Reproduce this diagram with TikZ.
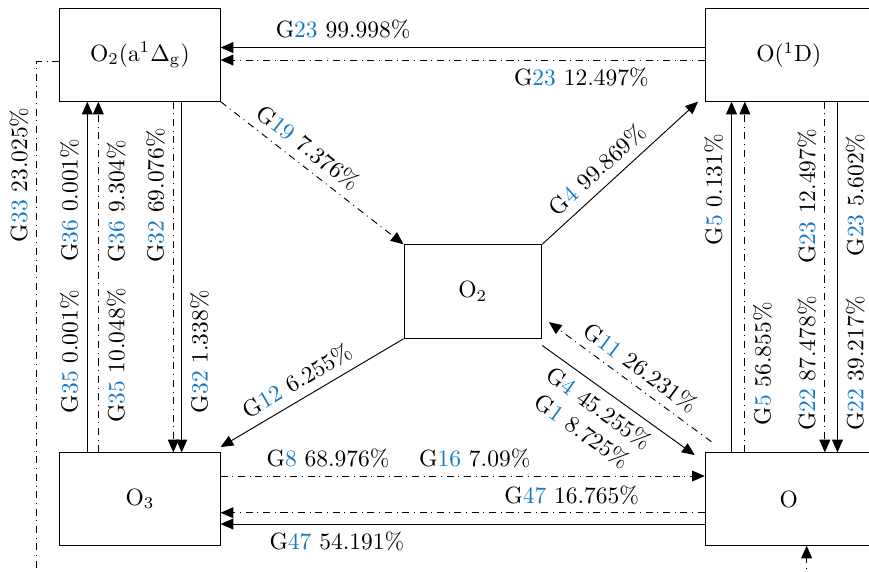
\documentclass[tikz,border=0pt]{standalone}
\usepackage{amsmath,amssymb}
\usepackage{tikz}
\usetikzlibrary{arrows.meta,calc}
\definecolor{gblue}{RGB}{20,120,200}
\newcommand{\reac}[2]{G\textcolor{gblue}{#1} #2\%}

\begin{document}
\begin{tikzpicture}[
    box/.style={draw, minimum width=2.4cm, minimum height=1.38cm, inner sep=0pt},
    rbox/.style={box, minimum width=2.5cm},
    mbox/.style={draw, minimum width=2.06cm, minimum height=1.4cm, inner sep=0pt},
    arr/.style={-{Triangle[length=5.4pt,width=4.6pt]}},
    dd/.style={dash dot},
    vlab/.style={rotate=90}
]
\useasboundingbox (0,0) rectangle (13,-8.542);
\clip (0,0) rectangle (13,-8.542);

\node[box]  (A)  at (2.093,-0.823) {$\mathrm{O_2(a^1\Delta_g)}$};
\node[rbox] (D)  at (11.80,-0.823) {$\mathrm{O(^1D)}$};
\node[mbox] (P)  at (7.074,-4.361) {$\mathrm{O_2}$};
\node[box]  (O3) at (2.093,-7.465) {$\mathrm{O_3}$};
\node[rbox] (O)  at (11.80,-7.465) {O};

\coordinate (g33) at (0.549,-8.68);
\coordinate (oin) at (12.067,-8.68);

% top row
\draw[arr] ([yshift=0.112cm]D.west) -- ([yshift=0.112cm]A.east)
    node[pos=0.747, above] {\reac{23}{99.998}};
\draw[arr, dd] ([yshift=-0.075cm]D.west) -- ([yshift=-0.075cm]A.east)
    node[pos=0.255, below] {\reac{23}{12.497}};

% diagonals
\draw[arr, dd] (A.south east) -- (P.north west)
    node[pos=0.42, sloped, above] {\reac{19}{7.376}};
\draw[arr] (P.north east) -- ([xshift=-0.1cm]D.south west)
    node[pos=0.43, sloped, above] {\reac{4}{99.869}};
\draw[arr] ([yshift=-0.1cm]P.south east) -- ([xshift=-0.15cm,yshift=-0.04cm]O.north west)
    node[pos=0.44, sloped, below, align=center] {\reac{4}{45.255}\\\reac{1}{8.725}};
\draw[arr, dd] ([xshift=0.1cm,yshift=0.16cm]O.north west) -- ([xshift=0.1cm,yshift=0.25cm]P.south east)
    node[pos=0.5, sloped, above] {\reac{11}{26.231}};
\draw[arr] (P.south west) -- ([yshift=0.08cm]O3.north east)
    node[pos=0.53, sloped, above] {\reac{12}{6.255}};

% bottom row
\draw[arr, dd] ([yshift=0.344cm]O3.east) -- ([yshift=0.344cm]O.west)
    node[pos=0.222, above] {\reac{8}{68.976}}
    node[pos=0.525, above] {\reac{16}{7.09}};
\draw[arr, dd] ([yshift=-0.205cm]O.west) -- ([yshift=-0.205cm]O3.east)
    node[pos=0.275, above] {\reac{47}{16.765}};
\draw[arr] ([yshift=-0.374cm]O.west) -- ([yshift=-0.374cm]O3.east)
    node[pos=0.76, below] {\reac{47}{54.191}};

% left column
\draw[arr] ([xshift=-0.787cm]O3.north) -- ([xshift=-0.787cm]A.south)
    node[pos=0.719, vlab, above] {\reac{36}{0.001}}
    node[pos=0.287, vlab, above] {\reac{35}{0.001}};
\draw[arr, dd] ([xshift=-0.622cm]O3.north) -- ([xshift=-0.622cm]A.south)
    node[pos=0.716, vlab, below] {\reac{36}{9.304}}
    node[pos=0.276, vlab, below] {\reac{35}{10.048}};
\draw[arr, dd] ([xshift=0.5cm]A.south) -- ([xshift=0.5cm]O3.north)
    node[pos=0.267, vlab, above] {\reac{32}{69.076}};
\draw[arr] ([xshift=0.625cm]A.south) -- ([xshift=0.625cm]O3.north)
    node[pos=0.713, vlab, below] {\reac{32}{1.338}};

% right column
\draw[arr] ([xshift=-0.857cm]O.north) -- ([xshift=-0.857cm]D.south)
    node[pos=0.749, vlab, above] {\reac{5}{0.131}};
\draw[arr, dd] ([xshift=-0.658cm]O.north) -- ([xshift=-0.658cm]D.south)
    node[pos=0.253, vlab, below] {\reac{5}{56.855}};
\draw[arr, dd] ([xshift=0.539cm]D.south) -- ([xshift=0.539cm]O.north)
    node[pos=0.27, vlab, above] {\reac{23}{12.497}}
    node[pos=0.747, vlab, above] {\reac{22}{87.478}};
\draw[arr] ([xshift=0.728cm]D.south) -- ([xshift=0.728cm]O.north)
    node[pos=0.266, vlab, below] {\reac{23}{5.602}}
    node[pos=0.747, vlab, below] {\reac{22}{39.217}};

% loose ends
\draw[dd] ([yshift=-0.1cm]A.west) -| (g33)
    node[pos=0.609, vlab, above] {\reac{33}{23.025}};
\draw[arr, dd] (oin) -- (oin |- O.south);
\end{tikzpicture}
\end{document}
